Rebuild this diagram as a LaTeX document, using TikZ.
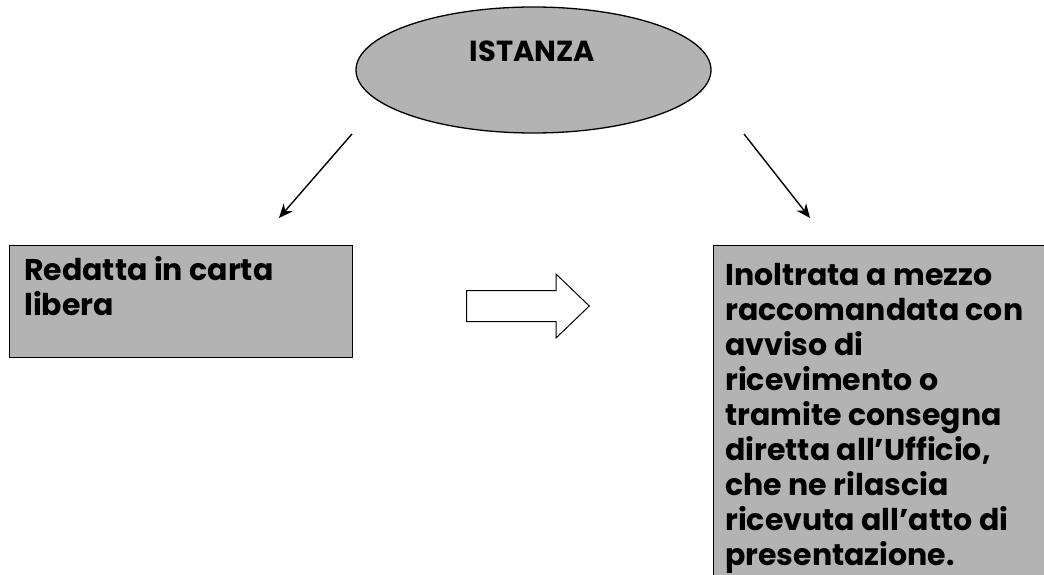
\documentclass[tikz,border=0pt]{standalone}
\usepackage{fontspec}
\newfontfamily\gothic{Poppins}
\usetikzlibrary{arrows.meta,shapes.geometric}
\definecolor{boxgray}{RGB}{179,179,179}
\begin{document}
\begin{tikzpicture}[x=1pt,y=-1pt,
  shape line/.style={draw=black, line width=1.3pt},
  graybox/.style={shape line, fill=boxgray, inner sep=0pt, anchor=north west},
  boxtext/.style={anchor=base west, inner sep=0pt, font=\gothic\bfseries\fontsize{30}{35}\selectfont},
  arr/.style={line width=1.4pt, -{Stealth[length=14pt,width=12pt]}}]
\useasboundingbox (0,0) rectangle (1044,575);
\clip (0,0) rectangle (1044,575);

% top ellipse
\node[ellipse, shape line, fill=boxgray, inner sep=0pt,
      minimum width=355, minimum height=126] (istanza) at (533.5,70) {};
\node[anchor=base, inner sep=0pt, font=\gothic\bfseries\fontsize{29}{35}\selectfont]
      (istanzalabel) at (532.5,62) {ISTANZA};

% left box
\node[graybox, minimum width=343, minimum height=112] (left) at (9,245) {};
\node[boxtext] (lefttext) at (24,280)
  {\parbox[t]{320pt}{\raggedright Redatta in carta\\libera}};

% right box (runs off the page)
\node[graybox, minimum width=400, minimum height=400] (right) at (712.7,245) {};
\node[boxtext] (righttext) at (725,285)
  {\parbox[t]{320pt}{\raggedright Inoltrata a mezzo\\raccomandata con\\avviso di\\ricevimento o\\tramite consegna\\diretta all’Ufficio,\\che ne rilascia\\ricevuta all’atto di\\presentazione.}};

% arrows from the ellipse
\coordinate (la) at (352,134);
\coordinate (lb) at (279,218);
\coordinate (ra) at (744,134);
\coordinate (rb) at (810,218);
\draw[arr] (la) -- (lb);
\draw[arr] (ra) -- (rb);

% block arrow between the boxes
\draw[line width=1pt, fill=white]
  (466.7,290.7) -- (556,290.7) -- (556,274) -- (589.3,306)
  -- (556,338) -- (556,321.7) -- (466.7,321.7) -- cycle;
\end{tikzpicture}
\end{document}
